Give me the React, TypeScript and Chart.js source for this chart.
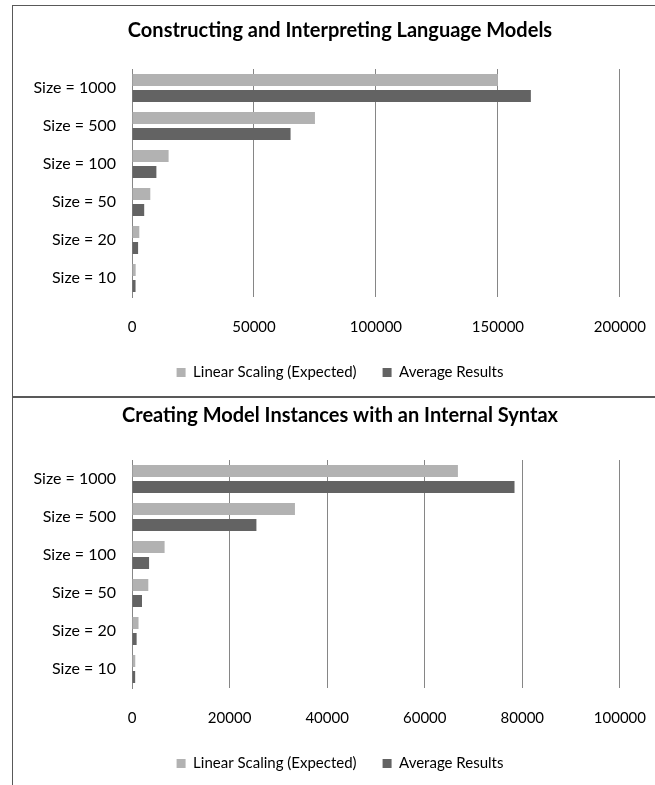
import React, { useEffect, useRef } from "react";
import { Chart, registerables } from "chart.js";

Chart.register(...registerables);

const categories = ["Size = 1000", "Size = 500", "Size = 100", "Size = 50", "Size = 20", "Size = 10"];
const seriesNames = ["Linear Scaling (Expected)", "Average Results"];

const title1 = "Constructing and Interpreting Language Models";
const linear1 = [150000, 75000, 15000, 7500, 3000, 1500];
const average1 = [163500, 65000, 10000, 5000, 2500, 1450];
const max1 = 200000;
const step1 = 50000;

const title2 = "Creating Model Instances with an Internal Syntax";
const linear2 = [66800, 33400, 6680, 3340, 1336, 668];
const average2 = [78400, 25500, 3500, 2050, 950, 650];
const max2 = 100000;
const step2 = 20000;

const LIGHT = "#b2b2b2";
const DARK = "#636363";
const GRID = "#868686";
const FONT = "Lato, 'Noto Sans', sans-serif";

const CW = 654;
const CH = 390;

function BarPanel(props: {
  title: string;
  linear: number[];
  average: number[];
  max: number;
  step: number;
  titleTop: number;
}) {
  const ref = useRef<HTMLCanvasElement | null>(null);
  useEffect(() => {
    if (!ref.current) return;
    const chart = new Chart(ref.current, {
      type: "bar",
      data: {
        labels: categories,
        datasets: [
          { label: seriesNames[0], data: props.linear, backgroundColor: LIGHT, borderWidth: 0 },
          { label: seriesNames[1], data: props.average, backgroundColor: DARK, borderWidth: 0 },
        ],
      },
      options: {
        indexAxis: "y",
        animation: false,
        responsive: false,
        maintainAspectRatio: false,
        events: [],
        layout: { padding: { left: 0, right: 0, top: 0, bottom: 6 } },
        datasets: { bar: { categoryPercentage: 0.842, barPercentage: 0.75 } },
        scales: {
          x: {
            min: 0,
            max: props.max,
            ticks: {
              stepSize: props.step,
              color: "#000",
              font: { family: FONT, size: 15 },
              padding: 21,
              maxRotation: 0,
              callback: (v: any) => String(v),
            },
            grid: { color: GRID, lineWidth: 1, drawTicks: false },
            border: { display: false },
            afterFit: (s: any) => { s.height = 42; },
          },
          y: {
            ticks: { color: "#000", font: { family: FONT, size: 16 }, padding: 16 },
            grid: { display: false, drawTicks: false },
            border: { display: true, color: GRID, width: 1 },
            afterFit: (s: any) => { s.width = 119; },
          },
          yRight: {
            type: "linear",
            axis: "y",
            position: "right",
            display: true,
            ticks: { display: false },
            grid: { display: false, drawTicks: false },
            border: { display: false },
            afterFit: (s: any) => { s.width = 46; },
          },
        },
        plugins: {
          title: {
            display: true,
            text: props.title,
            color: "#000",
            font: { family: FONT, size: 20, weight: "bold" },
            padding: { top: props.titleTop, bottom: 39 - props.titleTop },
          },
          legend: {
            position: "bottom",
            labels: {
              color: "#000",
              font: { family: FONT, size: 15 },
              boxWidth: 9,
              boxHeight: 9,
              padding: 26,
            },
          },
          tooltip: { enabled: false },
        },
      },
    });
    return () => chart.destroy();
  }, []);
  return <canvas ref={ref} width={CW} height={CH} style={{ display: "block", width: CW, height: CH }} />;
}

export default function App() {
  const line = "#595959";
  return (
    <div style={{ position: "fixed", left: 0, top: 0, width: 655, height: 785, overflow: "hidden", background: "#fff" }}>
      <div style={{ position: "absolute", left: 12, top: 5, width: 1, height: 780, background: line }} />
      <div style={{ position: "absolute", left: 12, top: 5, width: 643, height: 1, background: line }} />
      <div style={{ position: "absolute", left: 12, top: 396, width: 643, height: 2, background: line }} />
      <div style={{ position: "absolute", left: 13, top: 6 }}>
        <BarPanel title={title1} linear={linear1} average={average1} max={max1} step={step1} titleTop={13} />
      </div>
      <div style={{ position: "absolute", left: 13, top: 397 }}>
        <BarPanel title={title2} linear={linear2} average={average2} max={max2} step={step2} titleTop={7} />
      </div>
    </div>
  );
}
